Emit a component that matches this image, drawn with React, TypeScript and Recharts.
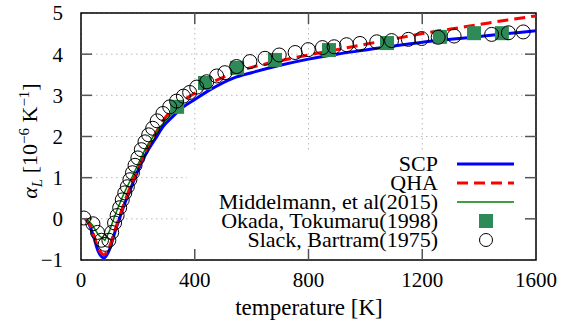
import {
  ComposedChart,
  XAxis,
  YAxis,
  Line,
  Scatter,
  CartesianGrid,
  ReferenceLine,
  ReferenceArea,
  Legend,
  Label,
} from "recharts";

const FONT = "Liberation Serif";

// SCP (blue)
const scpTemp = [15, 30, 45, 60, 81, 100, 118, 135, 150, 170, 190, 210, 230, 260, 290, 325, 360, 400, 450, 536, 600, 700, 800, 900, 1000, 1100, 1200, 1300, 1400, 1500, 1600];
const scpAlpha = [0, -0.15, -0.45, -0.78, -0.95, -0.75, -0.35, 0.0, 0.3, 0.65, 1.0, 1.33, 1.6, 1.93, 2.25, 2.5, 2.72, 2.9, 3.12, 3.42, 3.55, 3.73, 3.88, 4.0, 4.1, 4.2, 4.29, 4.36, 4.43, 4.5, 4.57];

// QHA (red dashed)
const qhaTemp = [15, 30, 45, 60, 80, 100, 118, 133, 150, 170, 190, 210, 230, 260, 290, 325, 360, 400, 450, 536, 600, 700, 800, 900, 1000, 1100, 1200, 1300, 1400, 1500, 1600];
const qhaAlpha = [0, -0.12, -0.4, -0.7, -0.87, -0.68, -0.3, 0.0, 0.35, 0.72, 1.06, 1.4, 1.7, 2.05, 2.4, 2.68, 2.88, 3.05, 3.27, 3.54, 3.68, 3.84, 3.98, 4.11, 4.24, 4.37, 4.5, 4.61, 4.72, 4.83, 4.93];

// Middelmann, et al (2015)
const midTemp = [20, 40, 60, 84, 100, 115, 130, 150, 165, 180, 200, 225, 254, 280, 310, 340];
const midAlpha = [0, -0.15, -0.38, -0.52, -0.3, 0.0, 0.27, 0.6, 0.82, 1.02, 1.32, 1.68, 2.0, 2.25, 2.48, 2.68];

// Okada, Tokumaru (1998)
const okaTemp = [338, 436, 549, 682, 872, 1076, 1262, 1382, 1480];
const okaAlpha = [2.72, 3.3, 3.67, 3.86, 4.1, 4.27, 4.42, 4.51, 4.51];

// Slack, Bartram (1975)
const slaTemp = [10, 42, 58, 72, 85, 98, 108, 118, 127, 136, 145, 154, 163, 172, 181, 190, 200, 212, 225, 238, 252, 268, 288, 312, 336, 360, 382, 407, 442, 477, 506, 547, 594, 647, 697, 753, 799, 849, 890, 934, 981, 1040, 1092, 1151, 1198, 1256, 1312, 1444, 1503, 1555];
const slaAlpha = [0.02, -0.12, -0.33, -0.52, -0.62, -0.52, -0.33, -0.1, 0.08, 0.27, 0.46, 0.63, 0.78, 0.95, 1.12, 1.3, 1.48, 1.68, 1.87, 2.04, 2.2, 2.38, 2.56, 2.72, 2.86, 2.98, 3.07, 3.2, 3.33, 3.47, 3.55, 3.7, 3.82, 3.9, 3.98, 4.04, 4.11, 4.16, 4.18, 4.23, 4.26, 4.3, 4.33, 4.36, 4.38, 4.41, 4.44, 4.48, 4.52, 4.54];

const xTicks = [0, 400, 800, 1200, 1600];
const yTicks = [-1, 0, 1, 2, 3, 4, 5];

const rows = (ts: number[], as: number[]) => ts.map((t, i) => ({ t, a: as[i] }));

const keyRows = [
  { name: "SCP", kind: "line", color: "#0000ff", dash: undefined, width: 3 },
  { name: "QHA", kind: "line", color: "#ff0000", dash: "11 6", width: 3 },
  { name: "Middelmann, et al(2015)", kind: "line", color: "#008000", dash: undefined, width: 1.5 },
  { name: "Okada, Tokumaru(1998)", kind: "square", color: "#2e8b57" },
  { name: "Slack, Bartram(1975)", kind: "circle", color: "#000" },
];

const SquareMark = (p: any) => (
  <rect x={p.cx - 7} y={p.cy - 7} width={14} height={14} fill="#2e8b57" />
);
const CircleMark = (p: any) => (
  <circle cx={p.cx} cy={p.cy} r={7} fill="none" stroke="#000" strokeWidth={1} />
);

function KeyBox() {
  return (
    <svg width={349} height={110} style={{ display: "block" }}>
      {keyRows.map((r, i) => {
        const cy = 14 + i * 19;
        return (
          <g key={r.name}>
            <text x={251} y={cy + 7} textAnchor="end" fontFamily={FONT} fontSize={22} fill="#000">
              {r.name}
            </text>
            {r.kind === "line" && (
              <line x1={270} x2={327} y1={cy} y2={cy} stroke={r.color} strokeWidth={r.width} strokeDasharray={r.dash} />
            )}
            {r.kind === "square" && <rect x={292} y={cy - 7} width={14} height={14} fill={r.color} />}
            {r.kind === "circle" && <circle cx={299} cy={cy} r={6.5} fill="none" stroke="#000" strokeWidth={1} />}
          </g>
        );
      })}
    </svg>
  );
}

const tickX = 38.7; // ~11px along x
const tickY = 0.27; // ~11px along y

export default function App() {
  return (
    <div style={{ position: "absolute", left: 0, top: 0, width: 574, height: 325, background: "#fff" }}>
      <ComposedChart width={574} height={325} margin={{ top: 13, right: 38, bottom: 0, left: 0 }}>
        <CartesianGrid stroke="#b8b8b8" strokeDasharray="1.5 3.5" />
        <XAxis
          dataKey="t"
          type="number"
          domain={[0, 1600]}
          ticks={xTicks}
          height={65}
          tickSize={0}
          tickMargin={12}
          tickLine={false}
          axisLine={false}
          tick={{ fontSize: 21, fontFamily: FONT, fill: "#000" }}
          allowDataOverflow
        >
          <Label
            content={() => (
              <text x={309} y={315} textAnchor="middle" fontFamily={FONT} fontSize={23} fill="#000">
                temperature [K]
              </text>
            )}
          />
        </XAxis>
        <YAxis
          dataKey="a"
          type="number"
          domain={[-1, 5]}
          ticks={yTicks}
          width={81}
          tickSize={0}
          tickMargin={18}
          tickLine={false}
          axisLine={false}
          tick={{ fontSize: 21, fontFamily: FONT, fill: "#000" }}
          tickFormatter={(v: number) => (v < 0 ? `\u2212${Math.abs(v)}` : `${v}`)}
          allowDataOverflow
        >
          <Label
            content={() => (
              <text
                x={37}
                y={141}
                transform="rotate(-90 37 141)"
                textAnchor="middle"
                fontFamily={FONT}
                fontSize={22}
                fill="#000"
              >
                <tspan fontStyle="italic">α</tspan>
                <tspan fontStyle="italic" fontSize={15} dy={5}>L</tspan>
                <tspan dy={-5}> [10</tspan>
                <tspan fontSize={15} dy={-8}>−6</tspan>
                <tspan dy={8}> K</tspan>
                <tspan fontSize={15} dy={-8}>−1</tspan>
                <tspan dy={8}>]</tspan>
              </text>
            )}
          />
        </YAxis>

        {/* opaque key box hides the grid underneath */}
        <ReferenceArea x1={372} x2={1600} y1={-1} y2={1.67} fill="#fff" fillOpacity={1} stroke="none" />

        <Line data={rows(scpTemp, scpAlpha)} dataKey="a" name="SCP" type="monotone" stroke="#0000ff" strokeWidth={3} dot={false} isAnimationActive={false} />
        <Line data={rows(qhaTemp, qhaAlpha)} dataKey="a" name="QHA" type="monotone" stroke="#ff0000" strokeWidth={3} strokeDasharray="11 6" dot={false} isAnimationActive={false} />
        <Line data={rows(midTemp, midAlpha)} dataKey="a" name="Middelmann, et al(2015)" type="linear" stroke="#008000" strokeWidth={1.5} dot={false} isAnimationActive={false} />
        <Scatter data={rows(okaTemp, okaAlpha)} dataKey="a" name="Okada, Tokumaru(1998)" shape={SquareMark} isAnimationActive={false} />
        <Scatter data={rows(slaTemp, slaAlpha)} dataKey="a" name="Slack, Bartram(1975)" shape={CircleMark} isAnimationActive={false} />

        {/* inward ticks on all four sides */}
        {xTicks.slice(1, -1).map((x) => (
          <ReferenceLine key={`b${x}`} segment={[{ x, y: -1 }, { x, y: -1 + tickY }]} stroke="#555" strokeWidth={1.5} />
        ))}
        {xTicks.slice(1, -1).map((x) => (
          <ReferenceLine key={`t${x}`} segment={[{ x, y: 5 }, { x, y: 5 - tickY }]} stroke="#555" strokeWidth={1.5} />
        ))}
        {yTicks.slice(1, -1).map((y) => (
          <ReferenceLine key={`l${y}`} segment={[{ x: 0, y }, { x: tickX, y }]} stroke="#555" strokeWidth={1.5} />
        ))}
        {yTicks.slice(1, -1).map((y) => (
          <ReferenceLine key={`r${y}`} segment={[{ x: 1600, y }, { x: 1600 - tickX, y }]} stroke="#555" strokeWidth={1.5} />
        ))}
        <ReferenceArea x1={0} x2={1600} y1={-1} y2={5} fill="none" stroke="#000" strokeWidth={1.5} ifOverflow="visible" />

        <Legend
          layout="vertical"
          align="center"
          verticalAlign="middle"
          content={() => <KeyBox />}
          wrapperStyle={{ position: "absolute", left: 187, top: 150, width: 349, height: 110 }}
        />
      </ComposedChart>
    </div>
  );
}
